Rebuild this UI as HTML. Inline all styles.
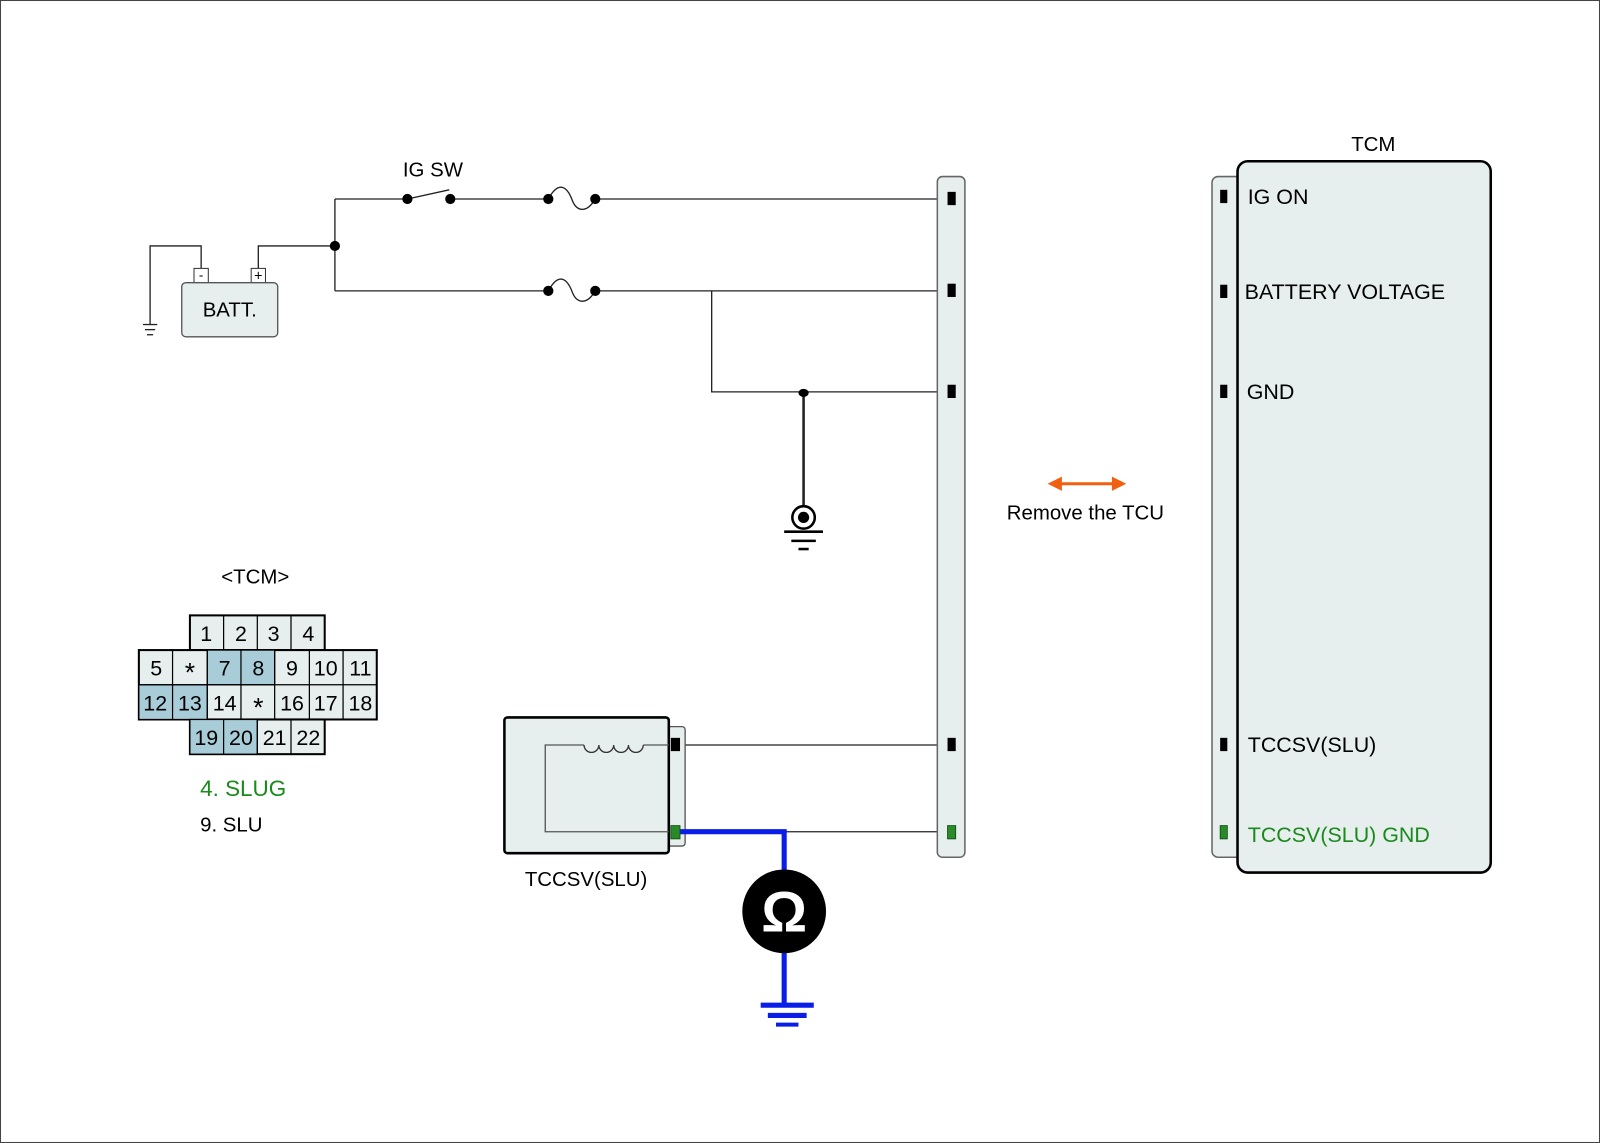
<!DOCTYPE html>
<html><head><meta charset="utf-8"><style>html,body{margin:0;padding:0;background:#fff}svg{display:block}text{font-family:"Liberation Sans",Arial,sans-serif}</style></head>
<body>
<svg width="1600" height="1143" viewBox="0 0 1567 1120" preserveAspectRatio="none" xmlns="http://www.w3.org/2000/svg">
<rect x="0.5" y="0.5" width="1566" height="1119" fill="#fff" stroke="#444" stroke-width="1"/>
<g stroke="#222" stroke-width="1.3" fill="none">
<polyline points="197,263 197,241 147,241 147,318"/>
<line x1="140" y1="318" x2="154" y2="318"/>
<line x1="142" y1="323" x2="152" y2="323"/>
<line x1="144" y1="328" x2="150" y2="328"/>
<polyline points="253,263 253,241 328,241"/>
<polyline points="328,195 328,285"/>
<line x1="328" y1="195" x2="399" y2="195"/>
<line x1="399" y1="195" x2="440" y2="186"/>
<line x1="441" y1="195" x2="537" y2="195"/>
<path d="M537,195 C548,175 556,185 560,195 C564,207 574,210 583,195"/>
<line x1="583" y1="195" x2="932" y2="195"/>
<line x1="328" y1="285" x2="537" y2="285"/>
<path d="M537,285 C548,265 556,275 560,285 C564,297 574,300 583,285"/>
<line x1="583" y1="285" x2="932" y2="285"/>
<polyline points="697,285 697,384 932,384"/>
<line x1="787" y1="384" x2="787" y2="497" stroke-width="2.5"/>
<line x1="667" y1="730" x2="932" y2="730"/>
<line x1="768" y1="815" x2="932" y2="815"/>
</g>
<g fill="#000">
<circle cx="328" cy="241" r="5"/>
<circle cx="399" cy="195" r="5"/><circle cx="441" cy="195" r="5"/>
<circle cx="537" cy="195" r="5"/><circle cx="583" cy="195" r="5"/>
<circle cx="537" cy="285" r="5"/><circle cx="583" cy="285" r="5"/>
<ellipse cx="787" cy="385" rx="5" ry="4"/>
</g>
<circle cx="787" cy="507" r="11" fill="#fff" stroke="#000" stroke-width="2.5"/>
<circle cx="787" cy="507" r="5.5" fill="#000"/>
<line x1="768" y1="521" x2="806" y2="521" stroke="#000" stroke-width="2.5"/>
<line x1="775" y1="530" x2="799" y2="530" stroke="#000" stroke-width="2.5"/>
<line x1="782" y1="538" x2="792" y2="538" stroke="#000" stroke-width="2.5"/>
<rect x="190" y="263" width="14" height="14" fill="#fff" stroke="#333"/>
<rect x="246" y="263" width="14" height="14" fill="#fff" stroke="#333"/>
<text x="197" y="274" font-size="13" text-anchor="middle">-</text>
<text x="253" y="275" font-size="14" text-anchor="middle">+</text>
<rect x="178" y="277" width="94" height="53" rx="4" fill="#e6eeee" stroke="#555" stroke-width="1.3"/>
<text x="225" y="310" font-size="20" text-anchor="middle">BATT.</text>
<text x="424" y="173" font-size="20" text-anchor="middle">IG SW</text>
<rect x="918" y="173" width="27" height="667" rx="5" fill="#e6eeee" stroke="#666" stroke-width="1.5"/>
<g fill="#000"><rect x="928" y="188" width="8" height="13"/><rect x="928" y="278" width="8" height="13"/><rect x="928" y="377" width="8" height="13"/><rect x="928" y="723" width="8" height="13"/></g>
<rect x="928" y="809" width="8" height="13" fill="#2a8a2a" stroke="#0a4a0a" stroke-width="0.8"/>
<line x1="1036" y1="474" x2="1093" y2="474" stroke="#f06010" stroke-width="3"/>
<polygon points="1026,474 1040,467 1040,481" fill="#f06010"/>
<polygon points="1103,474 1089,467 1089,481" fill="#f06010"/>
<text x="1063" y="509" font-size="20" text-anchor="middle">Remove the TCU</text>
<text x="1345" y="148" font-size="20" text-anchor="middle">TCM</text>
<rect x="1187" y="173" width="40" height="667" rx="6" fill="#e6eeee" stroke="#666" stroke-width="1.5"/>
<rect x="1212" y="158" width="248" height="697" rx="10" fill="#e6eeee" stroke="#000" stroke-width="2.5"/>
<g fill="#000"><rect x="1195" y="186" width="7" height="13"/><rect x="1195" y="279" width="7" height="13"/><rect x="1195" y="377" width="7" height="13"/><rect x="1195" y="723" width="7" height="13"/></g>
<rect x="1195" y="809" width="7" height="13" fill="#2a8a2a" stroke="#0a4a0a" stroke-width="0.8"/>
<g font-size="21"><text x="1222" y="200">IG ON</text><text x="1219" y="293">BATTERY VOLTAGE</text><text x="1221" y="391">GND</text><text x="1222" y="737">TCCSV(SLU)</text><text x="1222" y="825" fill="#1a8a1a">TCCSV(SLU) GND</text></g>
<rect x="653" y="712" width="18" height="117" rx="3" fill="#e6eeee" stroke="#555" stroke-width="1.3"/>
<rect x="494" y="703" width="161" height="133" rx="3" fill="#e6eeee" stroke="#000" stroke-width="2.5"/>
<path d="M655,730 L630,730 M572,730 L534,730 L534,815 L655,815" fill="none" stroke="#555" stroke-width="1.3"/>
<path d="M572,730 a7.25,7.25 0 0 0 14.5,0 a7.25,7.25 0 0 0 14.5,0 a7.25,7.25 0 0 0 14.5,0 a7.25,7.25 0 0 0 14.5,0" fill="none" stroke="#333" stroke-width="1.3"/>
<rect x="657" y="723" width="9" height="13" fill="#000"/>
<text x="574" y="868" font-size="20" text-anchor="middle">TCCSV(SLU)</text>
<polyline points="665,815 768,815 768,985" fill="none" stroke="#0a1ee8" stroke-width="5"/>
<line x1="745" y1="985" x2="797" y2="985" stroke="#0a1ee8" stroke-width="5"/>
<line x1="752" y1="995" x2="790" y2="995" stroke="#0a1ee8" stroke-width="5"/>
<line x1="760" y1="1004" x2="782" y2="1004" stroke="#0a1ee8" stroke-width="4"/>
<rect x="657" y="809" width="9" height="13" fill="#2a8a2a" stroke="#0a4a0a" stroke-width="0.8"/>
<circle cx="768" cy="893" r="41" fill="#000"/>
<text x="768" y="913" font-size="56" font-weight="bold" fill="#fff" text-anchor="middle">Ω</text>
<text x="250" y="572" font-size="20" text-anchor="middle">&lt;TCM&gt;</text>
<g stroke="#000" stroke-width="1.2">
<rect x="186" y="603" width="132" height="34" fill="#e6eeee" stroke-width="2"/>
<rect x="136" y="637" width="233" height="68" fill="#e6eeee" stroke-width="2"/>
<rect x="186" y="705" width="132" height="34" fill="#e6eeee" stroke-width="2"/>
<rect x="203" y="637" width="66" height="34" fill="#a8cdd8"/>
<rect x="136" y="671" width="67" height="34" fill="#a8cdd8"/>
<rect x="186" y="705" width="66" height="34" fill="#a8cdd8"/>
<path d="M219,603V637M252,603V637M285,603V637M169,637V705M203,637V705M236,637V705M269,637V705M303,637V705M336,637V705M136,671H369M219,705V739M252,705V739M285,705V739" fill="none"/>
</g>
<g font-size="21" text-anchor="middle">
<text x="202" y="628">1</text><text x="236" y="628">2</text><text x="268" y="628">3</text><text x="302" y="628">4</text>
<text x="153" y="662">5</text><text x="186" y="668" font-size="26">*</text><text x="220" y="662">7</text><text x="253" y="662">8</text><text x="286" y="662">9</text><text x="319" y="662">10</text><text x="353" y="662">11</text>
<text x="152" y="696">12</text><text x="186" y="696">13</text><text x="220" y="696">14</text><text x="253" y="702" font-size="26">*</text><text x="286" y="696">16</text><text x="319" y="696">17</text><text x="353" y="696">18</text>
<text x="202" y="730">19</text><text x="236" y="730">20</text><text x="269" y="730">21</text><text x="302" y="730">22</text>
</g>
<text x="196" y="780" font-size="22" fill="#1a8a1a">4. SLUG</text>
<text x="196" y="815" font-size="20">9. SLU</text>
</svg>
</body></html>
